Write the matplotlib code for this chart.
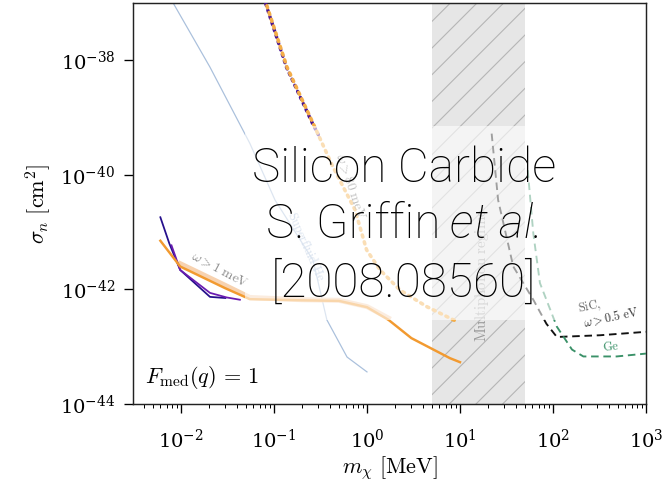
import matplotlib
matplotlib.use("Agg")
import matplotlib.pyplot as plt
import numpy as np
from matplotlib.patches import Rectangle

plt.rcParams['mathtext.fontset'] = 'cm'
plt.rcParams['font.family'] = 'serif'
plt.rcParams['font.serif'] = ['DejaVu Serif']

# ---- datos (masa en MeV, log10 de sigma en cm^2)
m_navy = [0.006, 0.0075, 0.0098, 0.0205, 0.03]
s_navy = [-40.74, -41.2, -41.66, -42.13, -42.15]

m_purple = [0.0079, 0.0098, 0.0205, 0.031, 0.043]
s_purple = [-41.23, -41.66, -42.06, -42.14, -42.18]

m_orange = [0.006, 0.0098, 0.03, 0.055, 0.2, 0.5, 1.0, 1.7, 3.0, 7.8, 10.0]
s_orange = [-41.15, -41.6, -41.98, -42.17, -42.19, -42.2, -42.31, -42.53, -42.85, -43.2, -43.27]

m_pale = [0.0098, 0.03, 0.055, 0.2, 0.5, 1.0, 1.7]
s_pale = [-41.55, -41.93, -42.14, -42.18, -42.19, -42.3, -42.5]

m_dot = [0.07, 0.082, 0.138, 0.263, 0.43, 0.743, 0.99, 1.38, 2.26, 4.39, 9.5]
s_dot = [-36.66, -37.0, -38.12, -39.10, -39.86, -40.61, -41.31, -41.66, -42.01, -42.30, -42.57]

m_dot_p = [0.069, 0.081, 0.136, 0.259, 0.3]
s_dot_p = [-36.66, -37.0, -38.12, -39.10, -39.3]

m_he = [0.007, 0.0205, 0.055, 0.1026, 0.263, 0.37, 0.61, 1.0]
s_he = [-36.8, -38.12, -39.45, -40.44, -41.49, -42.53, -43.18, -43.44]

m_sic = [21.9, 25.7, 37.4, 61.4, 85, 110, 320, 1000]
s_sic = [-39.28, -40.44, -41.60, -42.18, -42.6, -42.83, -42.80, -42.74]

m_ge = [53.5, 61.4, 72.4, 110, 160, 212, 484, 1000]
s_ge = [-39.92, -41.02, -41.89, -42.65, -43.05, -43.17, -43.17, -43.12]

multiphonon = [5, 50]

def sig(s):
    return 10.0 ** np.array(s)

fig = plt.figure(figsize=(667 / 80, 482 / 80), dpi=80)
ax = fig.add_axes([133 / 667, 78 / 482, 513 / 667, 401 / 482])

#region multifonon
ax.axvspan(multiphonon[0], multiphonon[1], facecolor='#e6e6e6', edgecolor='#b5b5b5',
           hatch='/', linewidth=0, zorder=1)
ax.text(17.3, 10 ** -41.75, r'$\mathrm{Multiphonon\ regime}$', rotation=90, color='#9a9a9a',
        fontsize=13.5, ha='center', va='center', zorder=2)

#superfluido
ax.plot(m_he, sig(s_he), color='#aac0dc', lw=1.1, zorder=2)
ax.text(0.22, 10 ** -41.25, r'$\mathrm{Superfluid\ He}$', rotation=-66, color='#9fb6d6',
        fontsize=11, ha='center', va='center', zorder=2)

#lineas punteadas omega > 80 meV
ax.plot(m_dot_p, sig(s_dot_p), color='#4a148f', lw=3.0, ls=(0.5, (0.6, 1.4)),
        dash_capstyle='round', zorder=3)
ax.plot(m_dot, sig(s_dot), color='#f4ad48', lw=3.2, ls=(0, (0.6, 1.4)),
        dash_capstyle='round', zorder=3)
ax.text(0.66, 10 ** -40.2, r'$\omega > 80\ \mathrm{meV}$', rotation=-71, color='#666666',
        fontsize=12, ha='center', va='center', zorder=3)

#curvas solidas
ax.plot(m_pale, sig(s_pale), color='#f6c79c', lw=4.5, alpha=0.8, zorder=3)
ax.plot(m_navy, sig(s_navy), color='#26108c', lw=1.6, zorder=4)
ax.plot(m_purple, sig(s_purple), color='#6a1bb0', lw=1.6, zorder=4)
ax.plot(m_orange, sig(s_orange), color='#f29a30', lw=2.2, zorder=4)
ax.text(0.0263, 10 ** -41.66, r'$\omega > 1\ \mathrm{meV}$', rotation=-28, color='#8a8a8a',
        fontsize=12, ha='center', va='center', zorder=5)

#SiC y Ge
ax.plot(m_sic, sig(s_sic), color='#111111', lw=1.7, ls=(0, (4, 2.5)), zorder=3)
ax.plot(m_ge, sig(s_ge), color='#3a9168', lw=1.7, ls=(0, (4, 2.5)), zorder=3)
ax.text(250, 10 ** -42.3, r'$\mathrm{SiC,}$', rotation=12, color='#666666',
        fontsize=11, ha='center', va='center')
ax.text(420, 10 ** -42.48, r'$\omega > 0.5\ \mathrm{eV}$', rotation=12, color='#333333',
        fontsize=11, ha='center', va='center')
ax.text(421, 10 ** -43.0, r'$\mathrm{Ge}$', rotation=5, color='#3a9168',
        fontsize=11, ha='center', va='center')

ax.text(0.023, 0.065, r'$F_{\mathrm{med}}(q)\,=\,1$', transform=ax.transAxes,
        fontsize=20, ha='left', va='center', zorder=5)

#caja blanca y titulo
ax.add_patch(Rectangle((0.218, 0.209), 0.64, 0.484, transform=ax.transAxes,
                       facecolor='white', alpha=0.6, edgecolor='none', zorder=6))
big = dict(family='Roboto', weight='light', fontsize=43, color='black', zorder=7)
ax.text(0.528, 0.554, 'Silicon Carbide', transform=ax.transAxes, ha='center', va='baseline', **big)
t2 = ax.text(0.600, 0.413, 'S. Griffin', transform=ax.transAxes, ha='right', va='baseline', **big)
ax.annotate('et al.', xy=(1, 0), xycoords=t2, xytext=(8, 0), textcoords='offset points',
            ha='left', va='bottom', style='italic', **big)
ax.text(0.528, 0.268, '[2008.08560]', transform=ax.transAxes, ha='center', va='baseline', **big)

ax.set_xscale('log')
ax.set_yscale('log')
ax.set_xlim(10 ** -2.516, 1e3)
ax.set_ylim(1e-44, 1e-37)
ax.set_yticks([1e-44, 1e-42, 1e-40, 1e-38])
ax.yaxis.set_minor_locator(matplotlib.ticker.NullLocator())
ax.tick_params(which='major', direction='out', length=8, width=1.2, labelsize=17.5, pad=14)
ax.tick_params(which='minor', direction='out', length=4, width=0.9)
ax.tick_params(axis='y', pad=8)
for s in ax.spines.values():
    s.set_linewidth(1.3)
    s.set_color('#222222')

ax.set_xlabel(r'$m_\chi\ [\mathrm{MeV}]$', fontsize=20, labelpad=2)
ax.set_ylabel(r'$\sigma_n\ [\mathrm{cm}^2]$', fontsize=20, labelpad=6)

fig.savefig('out.png', dpi=80)
